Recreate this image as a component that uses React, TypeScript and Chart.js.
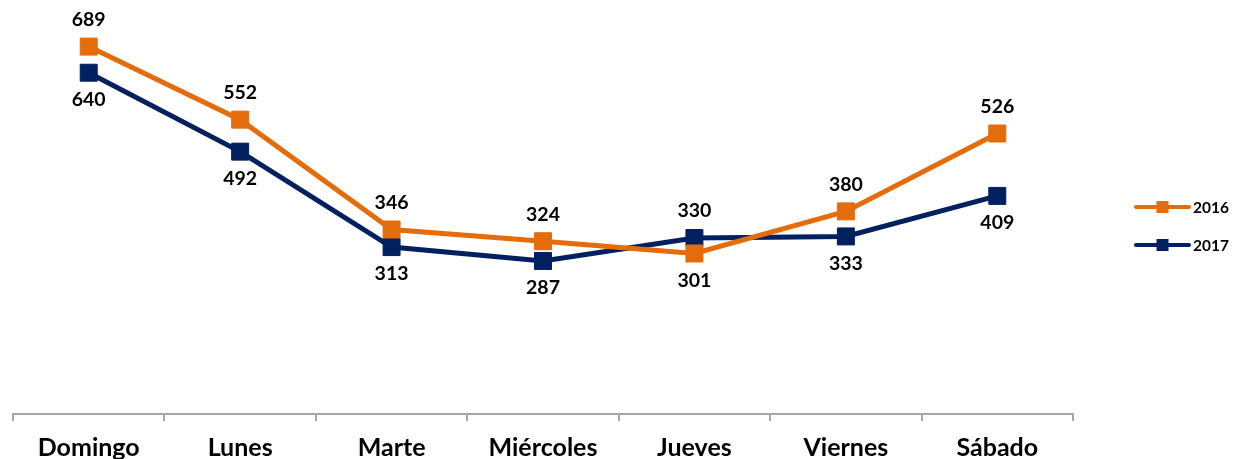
import React, { useEffect, useRef } from "react";
import { Chart, registerables } from "chart.js";

Chart.register(...registerables);

const categories = ["Domingo", "Lunes", "Marte", "Miércoles", "Jueves", "Viernes", "Sábado"];
const seriesNames = ["2016", "2017"];
const values2016 = [689, 552, 346, 324, 301, 380, 526];
const values2017 = [640, 492, 313, 287, 330, 333, 409];
const seriesColors = ["#E46C0A", "#002060"];

const FONT = "Lato, 'Noto Sans', sans-serif";

const dataLabelPlugin = {
  id: "dataLabels",
  afterDatasetsDraw(chart: any) {
    const ctx = chart.ctx;
    const ds = chart.data.datasets;
    ctx.save();
    ctx.font = `bold 19.5px ${FONT}`;
    ctx.fillStyle = "#000";
    ctx.textAlign = "center";
    ctx.textBaseline = "middle";
    ds.forEach((d: any, di: number) => {
      const meta = chart.getDatasetMeta(di);
      meta.data.forEach((pt: any, i: number) => {
        const v = d.data[i];
        const others = ds.filter((_: any, k: number) => k !== di).map((o: any) => o.data[i]);
        const above = others.every((o: number) => v >= o);
        const y = above ? pt.y - 27 : pt.y + 27;
        ctx.fillText(String(v), pt.x, y);
      });
    });
    ctx.restore();
  },
};

const legendPlugin = {
  id: "customLegend",
  afterDraw(chart: any) {
    const ctx = chart.ctx;
    const ds = chart.data.datasets;
    ctx.save();
    ds.forEach((d: any, i: number) => {
      const y = 207 + i * 38;
      const x0 = 1136;
      const x1 = 1189;
      ctx.strokeStyle = d.borderColor;
      ctx.lineWidth = 4;
      ctx.lineCap = "round";
      ctx.beginPath();
      ctx.moveTo(x0, y);
      ctx.lineTo(x1, y);
      ctx.stroke();
      ctx.fillStyle = d.borderColor;
      ctx.fillRect((x0 + x1) / 2 - 6, y - 6, 12, 12);
      ctx.fillStyle = "#000";
      ctx.font = `bold 15.5px ${FONT}`;
      ctx.textAlign = "left";
      ctx.textBaseline = "middle";
      ctx.fillText(d.label, 1193, y + 1);
    });
    ctx.restore();
  },
};

export default function App() {
  const ref = useRef<HTMLCanvasElement | null>(null);
  useEffect(() => {
    if (!ref.current) return;
    const chart = new Chart(ref.current, {
      type: "line",
      data: {
        labels: categories,
        datasets: [values2016, values2017].map((vals, i) => ({
          label: seriesNames[i],
          data: vals,
          borderColor: seriesColors[i],
          backgroundColor: seriesColors[i],
          borderWidth: 5,
          pointStyle: "rect",
          pointRadius: 12,
          pointBorderWidth: 1,
          tension: 0,
          fill: false,
        })),
      },
      options: {
        animation: false,
        responsive: false,
        layout: { padding: { left: 13, right: 160, top: 10, bottom: -16 } },
        plugins: { legend: { display: false }, tooltip: { enabled: false } },
        scales: {
          x: {
            offset: true,
            grid: {
              offset: true,
              drawOnChartArea: false,
              drawTicks: true,
              tickLength: 7,
              color: "#A6A6A6",
              lineWidth: 2,
            },
            border: { color: "#A6A6A6", width: 2 },
            ticks: {
              color: "#000",
              font: { family: FONT, size: 25, weight: "bold" },
              padding: 12,
              maxRotation: 0,
            },
          },
          y: { display: false, min: 0, max: 752 },
        },
      },
      plugins: [dataLabelPlugin, legendPlugin],
    });
    return () => chart.destroy();
  }, []);
  return (
    <div style={{ position: "absolute", left: 0, top: 0, width: 1233, height: 459, background: "#fff" }}>
      <canvas ref={ref} width={1233} height={459} />
    </div>
  );
}
